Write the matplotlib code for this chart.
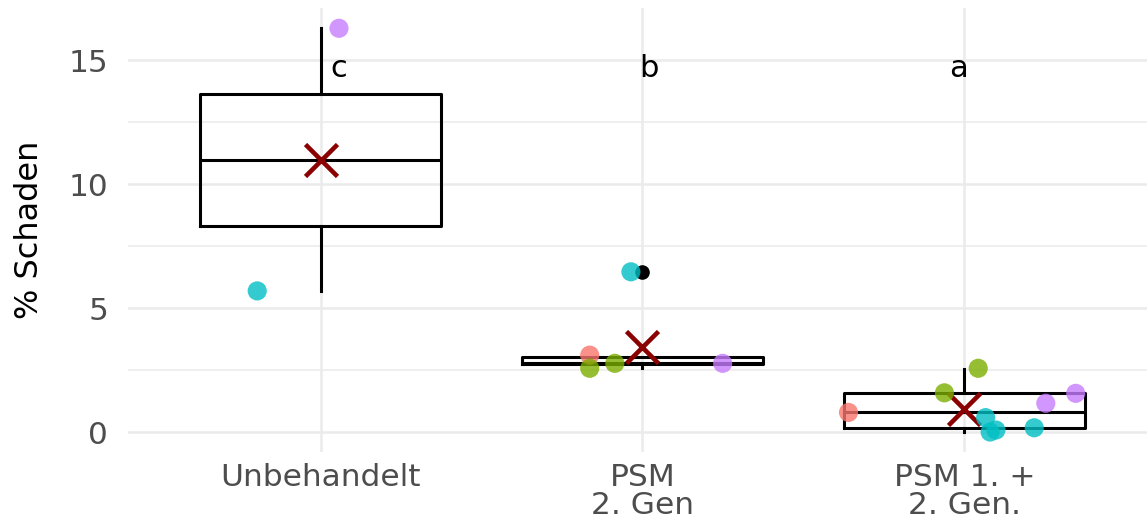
import matplotlib
matplotlib.use("Agg")
import matplotlib.pyplot as plt
import numpy as np

# ---- data ----
categories = ["Unbehandelt", "PSM\n2. Gen", "PSM 1. +\n2. Gen."]
letters = ["c", "b", "a"]
letter_y = 14.3
letter_dx = [0.056, 0.02, -0.019]

# box statistics per group
q1 = [8.32, 2.74, 0.15]
med = [10.97, 2.80, 0.82]
q3 = [13.63, 3.01, 1.58]
whislo = [5.69, 2.57, 0.00]
whishi = [16.28, 3.01, 2.53]
means = [10.98, 3.42, 0.93]
outliers = [[], [6.46], []]

# individual observations (jittered horizontally)
pts_y = [
    [16.28, 5.69],
    [3.10, 2.57, 2.77, 2.77, 6.46],
    [0.79, 1.58, 2.57, 0.58, 0.00, 0.08, 0.17, 1.16, 1.56],
]
pts_jitter = [
    [0.057, -0.197],
    [-0.164, -0.164, -0.086, 0.249, -0.036],
    [-0.360, -0.062, 0.043, 0.066, 0.080, 0.098, 0.217, 0.253, 0.346],
]
pts_level = [
    [4, 3],
    [1, 2, 2, 4, 3],
    [1, 2, 2, 3, 3, 3, 3, 4, 4],
]
level_colors = {1: "#F8766D", 2: "#7CAE00", 3: "#00BFC4", 4: "#C77CFF"}

# ---- figure ----
W, H = 1147, 525
fig = plt.figure(figsize=(W / 100, H / 100), dpi=100)
left_px, right_px = 127.5, 1157.5
top_px, bot_px = 8.1, 452.2
ax = fig.add_axes([left_px / W, 1 - bot_px / H, (right_px - left_px) / W, (bot_px - top_px) / H])

xpos = np.arange(1, len(categories) + 1)

# grid
for v in [2.5, 7.5, 12.5]:
    ax.axhline(v, color="#EBEBEB", lw=1.1, zorder=0)
for v in [0, 5, 10, 15]:
    ax.axhline(v, color="#EBEBEB", lw=1.8, zorder=0)
for x in xpos:
    ax.axvline(x, color="#EBEBEB", lw=1.8, zorder=0)

# boxes
stats = []
for i in range(len(categories)):
    stats.append(dict(q1=q1[i], med=med[i], q3=q3[i], whislo=whislo[i],
                      whishi=whishi[i], fliers=outliers[i], mean=means[i]))
ax.bxp(stats, positions=xpos, widths=0.75, showcaps=False, showmeans=False,
       patch_artist=False,
       boxprops=dict(color="black", lw=2.2),
       whiskerprops=dict(color="black", lw=2.2),
       medianprops=dict(color="black", lw=2.2),
       flierprops=dict(marker="o", markerfacecolor="black", markeredgecolor="black",
                       markersize=9.5, linestyle="none"),
       zorder=2)

# mean markers
ax.plot(xpos, means, linestyle="none", marker="x", markersize=23, mew=3.3,
        color="#8B0000", zorder=3)

# points
for i in range(len(categories)):
    xs = xpos[i] + np.array(pts_jitter[i])
    cs = [level_colors[l] for l in pts_level[i]]
    ax.scatter(xs, pts_y[i], s=190, c=cs, alpha=0.8, edgecolors="none", zorder=4)

# letters
for i, t in enumerate(letters):
    ax.text(xpos[i] + letter_dx[i], letter_y, t, fontsize=22, ha="center",
            va="baseline", color="black", zorder=5)

ax.set_xlim(0.4, 3.6)
ax.set_ylim(-0.814, 17.094)
ax.set_yticks([0, 5, 10, 15])
ax.set_yticklabels(["0", "5", "10", "15"])
ax.set_xticks(xpos)
ax.set_xticklabels(categories, linespacing=0.95)
ax.tick_params(axis="both", length=0, labelsize=22.5, labelcolor="#4D4D4D")
ax.tick_params(axis="y", pad=14)
ax.tick_params(axis="x", pad=8)
for s in ax.spines.values():
    s.set_visible(False)

fig.text(29.7 / W, 1 - 230 / H, "% Schaden", rotation=90, ha="center", va="center",
         fontsize=23, color="black")

fig.savefig("out.png", dpi=100)
